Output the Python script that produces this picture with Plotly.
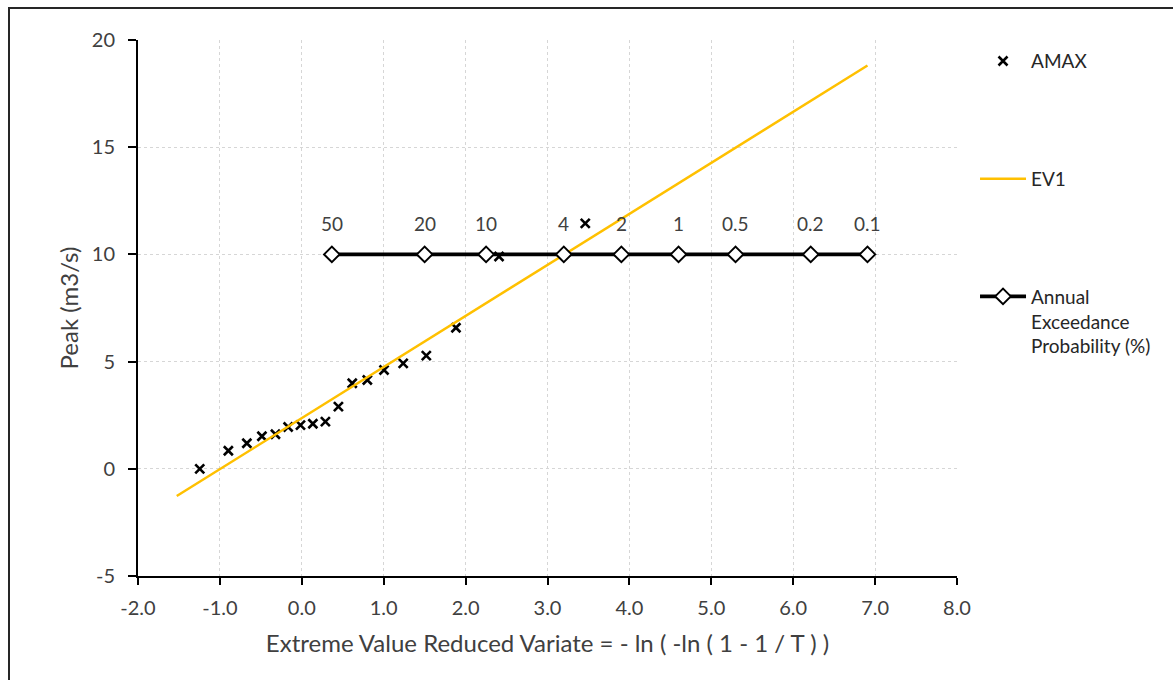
import plotly.graph_objects as go

# AMAX data (reduced variate, peak flow m3/s)
amax_x = [-1.246, -0.897, -0.671, -0.487, -0.322, -0.167, -0.016, 0.135, 0.288,
          0.447, 0.616, 0.800, 1.004, 1.238, 1.520, 1.882, 2.408, 3.461]
amax_y = [0.00, 0.84, 1.19, 1.52, 1.61, 1.95, 2.04, 2.10, 2.20,
          2.90, 3.99, 4.14, 4.61, 4.92, 5.28, 6.58, 9.90, 11.45]

# EV1 fitted line
ev1_x = [-1.527, 6.907]
ev1_y = [-1.27, 18.81]

# Annual exceedance probability scale
aep_x = [0.367, 1.500, 2.250, 3.199, 3.902, 4.600, 5.296, 6.214, 6.907]
aep_y = [10, 10, 10, 10, 10, 10, 10, 10, 10]
aep_labels = ["50", "20", "10", "4", "2", "1", "0.5", "0.2", "0.1"]

# axis ticks
x_ticks = [-2, -1, 0, 1, 2, 3, 4, 5, 6, 7, 8]
x_ticktext = ["-2.0", "-1.0", "0.0", "1.0", "2.0", "3.0", "4.0", "5.0", "6.0", "7.0", "8.0"]
y_ticks = [-5, 0, 5, 10, 15, 20]
y_ticktext = ["-5", "0", "5", "10", "15", "20"]

FONT = "Lato"
TXT = "#404040"

fig = go.Figure()

fig.add_trace(go.Scatter(
    x=amax_x, y=amax_y, mode="markers", name="AMAX",
    marker=dict(symbol="x-thin-open", size=9, color="black",
                line=dict(width=2.6, color="black")),
    legendgroup="a",
))
fig.add_trace(go.Scatter(
    x=ev1_x, y=ev1_y, mode="lines", name="EV1",
    line=dict(color="#FFC000", width=2.5),
    legendgroup="b",
))
fig.add_trace(go.Scatter(
    x=aep_x, y=aep_y, mode="lines+markers",
    name="Annual<br>Exceedance<br>Probability (%)",
    line=dict(color="black", width=3.8),
    marker=dict(symbol="diamond", size=12, color="white",
                line=dict(width=2, color="black")),
    legendgroup="c",
))

for xv, yv, lab in zip(aep_x, aep_y, aep_labels):
    fig.add_annotation(x=xv, y=yv, text=lab, showarrow=False, yshift=31,
                       font=dict(family=FONT, size=19, color=TXT))

# outer chart border
fig.add_shape(type="rect", xref="paper", yref="paper",
              x0=(9 - 138) / 819, x1=(1200 - 138) / 819,
              y0=(576 - 720) / 536, y1=(576 - 8) / 536,
              line=dict(color="#262626", width=2), fillcolor="rgba(0,0,0,0)",
              layer="below")

axis_common = dict(
    showline=True, linecolor="black", linewidth=2,
    ticks="outside", tickcolor="black", tickwidth=2,
    showgrid=True, gridcolor="#d6d6d6", griddash="dot", gridwidth=1,
    zeroline=False,
    tickfont=dict(family=FONT, size=20, color=TXT),
)

fig.update_xaxes(range=[-2, 8], tickmode="array", tickvals=x_ticks, ticktext=x_ticktext,
                 ticklen=7, ticklabelstandoff=6,
                 title=dict(text="Extreme Value Reduced Variate = - ln ( -ln ( 1 - 1 / T ) )",
                            font=dict(family=FONT, size=24, color=TXT), standoff=17),
                 **axis_common)
fig.update_yaxes(range=[-5, 20], tickmode="array", tickvals=y_ticks, ticktext=y_ticktext,
                 ticklen=8, ticklabelstandoff=9,
                 title=dict(text="Peak (m3/s)",
                            font=dict(family=FONT, size=24, color=TXT), standoff=6),
                 **axis_common)

fig.update_layout(
    width=1173, height=680,
    margin=dict(l=138, r=216, t=40, b=104),
    paper_bgcolor="white", plot_bgcolor="white",
    font=dict(family=FONT, color=TXT),
    legend=dict(x=1.022, y=0.996, xanchor="left", yanchor="top",
                font=dict(family=FONT, size=19, color="#262626"),
                tracegroupgap=90, valign="top", itemwidth=46,
                bgcolor="rgba(0,0,0,0)"),
    showlegend=True,
)

fig.write_html("out.html")
